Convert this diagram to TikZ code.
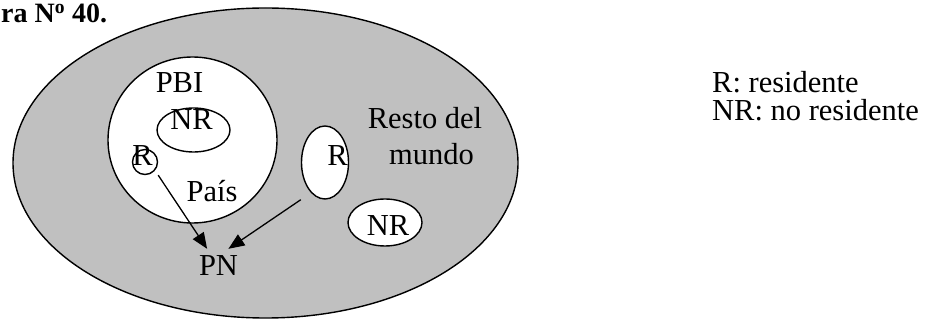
\documentclass[tikz,border=0pt]{standalone}
\usepackage{fontspec}
\setmainfont{Liberation Serif}
\usetikzlibrary{arrows.meta,shapes.geometric}
\definecolor{grismundo}{RGB}{192,192,192}

\begin{document}
\begin{tikzpicture}[x=1pt, y=-1pt, >={Triangle[length=16pt,width=13pt]},
    zona/.style={draw, ellipse, line width=1.4pt, fill=white, inner sep=0pt},
    rotulo/.style={anchor=base, inner sep=0pt, font=\fontsize{30.5}{36}\selectfont}]
    \useasboundingbox (0,0) rectangle (935,320);

    % Title (cut at the left edge)
    \node[rotulo, anchor=base west, font=\fontsize{28}{34}\selectfont\bfseries] (titulo) at (1,23) {ra N\textsuperscript{o} 40.};

    % Regions
    \node[zona, fill=grismundo, minimum width=505pt, minimum height=310pt] (mundo) at (265.5,163) {};
    \node[zona, minimum width=169pt, minimum height=166pt] (pais) at (192.5,140) {};
    \node[zona, minimum width=73pt, minimum height=44pt] (nrpais) at (193.5,130) {};
    \node[zona, minimum width=25pt, minimum height=25pt] (rpais) at (145,162) {};
    \node[zona, minimum width=47pt, minimum height=73pt] (rmundo) at (325,162.5) {};
    \node[zona, minimum width=74pt, minimum height=47pt] (nrmundo) at (385,222.5) {};

    % Labels
    \node[rotulo] (pbi) at (179.5,93) {PBI};
    \node[rotulo] (nrpaistxt) at (191.5,130) {NR};
    \node[rotulo] (rpaistxt) at (142.5,166) {R};
    \node[rotulo] (paistxt) at (212,202) {País};
    \node[rotulo] (rmundotxt) at (337.5,166) {R};
    \node[rotulo] (resto) at (425,129) {Resto del};
    \node[rotulo] (restomundo) at (431.5,165) {mundo};
    \node[rotulo] (nrmundotxt) at (388,236) {NR};
    \node[rotulo, inner sep=7pt] (pn) at (218.5,276) {PN};

    % Flows into PN
    \draw[->, line width=1.3pt] (rpais.south -| rpais.east) -- (pn);
    \draw[->, line width=1.3pt] (rmundo.south -| rmundo.west) -- (pn.60);

    % Key
    \node[rotulo, anchor=base west] (claver) at (712,93) {R: residente};
    \node[rotulo, anchor=base west] (clavenr) at (712,121) {NR: no residente};
\end{tikzpicture}
\end{document}
